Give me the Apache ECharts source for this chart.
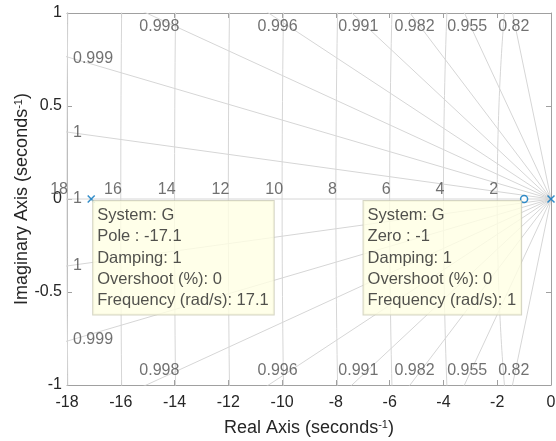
<!DOCTYPE html>
<html><head><meta charset="utf-8">
<script src="https://cdn.jsdelivr.net/npm/echarts@6/dist/echarts.min.js"></script>
<style>html,body{margin:0;padding:0;background:#fff}#c{width:556px;height:441px}</style>
</head><body><div id="c"></div>
<script>
// ---------- data ----------
const xTicks = [-18, -16, -14, -12, -10, -8, -6, -4, -2, 0];
const yTicks = [-1, -0.5, 0, 0.5, 1];
const poles = [[-17.1, 0], [0, 0]];
const zeros = [[-1, 0]];
const dampingRatios = [1, 0.9998, 0.9991, 0.9978, 0.9955, 0.9910, 0.9823, 0.9550, 0.8200];
const dampingLabels = ['1', '1', '0.999', '0.998', '0.996', '0.991', '0.982', '0.955', '0.82'];
const naturalFreqs = [2, 4, 6, 8, 10, 12, 14, 16, 18];
const freqLabels = ['2', '4', '6', '8', '10', '12', '14', '16', '18'];
const poleTip = ['System: G', 'Pole : -17.1', 'Damping: 1', 'Overshoot (%): 0', 'Frequency (rad/s): 17.1'];
const zeroTip = ['System: G', 'Zero : -1', 'Damping: 1', 'Overshoot (%): 0', 'Frequency (rad/s): 1'];

// ---------- layout / style ----------
const W = 556, H = 441;
const G = {left: 67, right: 5, top: 13, bottom: 56};
const xMin = xTicks[0], xMax = xTicks[xTicks.length - 1];
const yMin = yTicks[0], yMax = yTicks[yTicks.length - 1];
const pxPerX = (W - G.left - G.right) / (xMax - xMin);
const pxPerY = (H - G.top - G.bottom) / (yMax - yMin);
const inset = 6;
const dxI = inset / pxPerX, dyI = inset / pxPerY;
const FONT = 'Liberation Sans, Arial, Helvetica, sans-serif';
const FRAME = '#a0a0a0', GRID = '#d6d6d6', BLUE = '#0072BD', TXT = '#262626', GTXT = '#4d4d4d';

// ---------- grid geometry ----------
const series = [];
const R = 100;
dampingRatios.forEach((z, i) => {
  const t = Math.sqrt(Math.max(0, 1 - z * z)) / z;
  const signs = t === 0 ? [1] : [1, -1];
  signs.forEach(s => {
    series.push({type: 'line', silent: true, showSymbol: false, symbol: 'none', z: 1,
      lineStyle: {color: GRID, width: 1}, data: [[0, 0], [-R, s * t * R]]});
  });
});
naturalFreqs.forEach(w => {
  const pts = [];
  for (let a = 90; a <= 270; a += 1) {
    const r = a * Math.PI / 180;
    pts.push([w * Math.cos(r), w * Math.sin(r)]);
  }
  series.push({type: 'line', silent: true, showSymbol: false, symbol: 'none', z: 1,
    lineStyle: {color: GRID, width: 1}, data: pts});
});

// damping labels at the inset border crossing
const dLab = [];
dampingRatios.forEach((z, i) => {
  const t = Math.sqrt(Math.max(0, 1 - z * z)) / z;
  const signs = t === 0 ? [1] : [1, -1];
  signs.forEach(s => {
    const xL = xMin + dxI;
    const yAtL = t * (-xL);
    const txt = dampingLabels[i];
    if (yAtL <= yMax - dyI) {
      dLab.push({value: [xL, s * yAtL], label: {formatter: txt, position: [0.5, 0.5], align: 'left', verticalAlign: 'middle'}});
    } else {
      const yT = yMax - dyI;
      dLab.push({value: [-yT / t, s * yT], label: {formatter: txt, position: [0.5, 0.5], align: 'center', verticalAlign: s > 0 ? 'top' : 'bottom'}});
    }
  });
});
series.push({type: 'scatter', silent: true, symbolSize: 1, z: 2, clip: false,
  itemStyle: {color: 'rgba(0,0,0,0)'},
  label: {show: true, color: GTXT, fontSize: 16, fontFamily: FONT},
  data: dLab});

// frequency labels
series.push({type: 'scatter', silent: true, symbolSize: 1, z: 2, clip: false,
  itemStyle: {color: 'rgba(0,0,0,0)'},
  label: {show: true, color: GTXT, fontSize: 16, fontFamily: FONT, position: [1.5, -8.5], align: 'right', verticalAlign: 'middle',
    formatter: p => freqLabels[p.dataIndex]},
  data: naturalFreqs.map(w => [-w, 0])});

// markers
const xPath = 'path://M0,0L10,10M10,0L0,10';
series.push({type: 'scatter', silent: true, z: 5, clip: false, symbol: xPath, symbolSize: 7,
  itemStyle: {color: 'none', borderColor: BLUE, borderWidth: 1.5}, data: poles});
series.push({type: 'scatter', silent: true, z: 5, clip: false, symbol: 'circle', symbolSize: 7,
  itemStyle: {color: '#fff', borderColor: BLUE, borderWidth: 1.5}, data: zeros});

// data tips
const tipText = lines => lines.map(l => '{t|' + l + '}').join('\n');
const tipStyle = {show: true, color: TXT, fontSize: 16.5, fontFamily: FONT, lineHeight: 21.3,
  backgroundColor: '#FFFFE3', borderColor: '#c9c9b4', borderWidth: 1, padding: [4, 5, 3, 4],
  rich: {t: {align: 'left', fontSize: 16.5, fontFamily: FONT, color: TXT, lineHeight: 21.3}}};
series.push({type: 'scatter', silent: true, z: 10, clip: false, symbolSize: 1,
  itemStyle: {color: 'rgba(0,0,0,0)'},
  data: [
    {value: poles[0], label: Object.assign({}, tipStyle, {formatter: tipText(poleTip), position: [2.5, 2.5], align: 'left', verticalAlign: 'top'})},
    {value: zeros[0], label: Object.assign({}, tipStyle, {formatter: tipText(zeroTip), position: [-2.5, 2.5], align: 'right', verticalAlign: 'top'})}
  ]});

const nameStyle = {color: TXT, fontSize: 18, fontFamily: FONT,
  rich: {n: {fontSize: 18, fontFamily: FONT, color: TXT}, s: {fontSize: 11, fontFamily: FONT, color: TXT, verticalAlign: 'top'}}};
const axCommon = {type: 'value', axisLine: {show: true, onZero: false, lineStyle: {color: FRAME, width: 1}},
  axisTick: {show: true, inside: true, length: 5, lineStyle: {color: FRAME}}, splitLine: {show: false}};

const option = {
  animation: false,
  backgroundColor: '#fff',
  grid: {left: G.left, right: G.right, top: G.top, bottom: G.bottom, containLabel: false, outerBoundsMode: 'none'},
  xAxis: [
    Object.assign({}, axCommon, {min: xMin, max: xMax, interval: 2, position: 'bottom',
      axisLabel: {color: TXT, fontSize: 16, fontFamily: FONT, margin: 10},
      name: '{n|Real Axis (seconds}{s|-1}{n|)}', nameLocation: 'middle', nameGap: 34, nameMoveOverlap: false, nameTextStyle: nameStyle}),
    Object.assign({}, axCommon, {min: xMin, max: xMax, interval: 2, position: 'top', axisLabel: {show: false}})
  ],
  yAxis: [
    Object.assign({}, axCommon, {min: yMin, max: yMax, interval: 0.5, position: 'left',
      axisLabel: {color: TXT, fontSize: 16, fontFamily: FONT, margin: 5},
      name: '{n|Imaginary Axis (seconds}{s|-1}{n|)}', nameLocation: 'middle', nameGap: 36, nameRotate: 90, nameMoveOverlap: false, nameTextStyle: nameStyle}),
    Object.assign({}, axCommon, {min: yMin, max: yMax, interval: 0.5, position: 'right', axisLabel: {show: false}})
  ],
  series: series
};
const chart = echarts.init(document.getElementById('c'), null, {renderer: 'canvas'});
chart.setOption(option);
</script></body></html>
